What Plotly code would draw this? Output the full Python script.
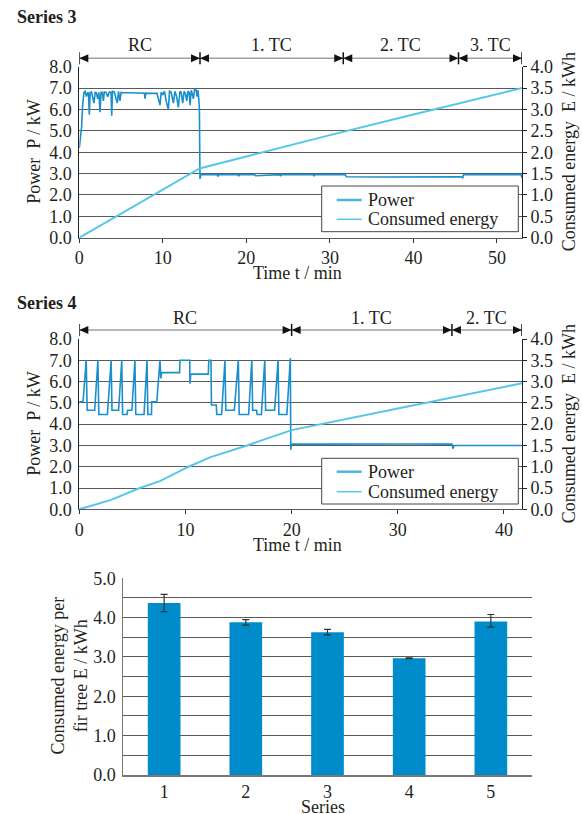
import plotly.graph_objects as go

# ---------------- data ----------------
# Series 3 : power (kW) over time (min)
S3_T = [0.0, 0.1, 0.2, 0.28, 0.4, 0.56, 0.7, 0.85, 1.0, 1.1, 1.2, 1.3, 1.45, 1.6, 1.76, 1.9,
        2.05, 2.2, 2.35, 2.48, 2.6, 2.75, 2.88, 3.0, 3.2, 3.4, 3.6, 3.8, 3.88, 3.98, 4.2, 4.4,
        4.55, 4.7, 4.87, 5.0, 5.27, 6.0, 7.0, 7.8, 7.87, 7.95, 8.5, 9.3, 9.66, 9.8, 10.0, 10.2,
        10.4, 10.66, 10.8, 11.0, 11.26, 11.45, 11.65, 11.86, 12.05, 12.2, 12.38, 12.55, 12.7,
        12.86, 13.0, 13.15, 13.26, 13.4, 13.55, 13.66, 13.8, 14.0, 14.1, 14.2, 14.3, 14.38,
        14.42, 14.45, 14.55, 16.5, 16.6, 16.7, 19.0, 19.1, 19.2, 21.0, 21.1, 24.0, 24.1, 24.2,
        26.0, 28.0, 28.1, 28.2, 31.8, 32.0, 36.0, 40.0, 45.7, 45.9, 46.0, 50.0, 52.9, 53.0]
S3_P = [4.2, 4.5, 4.9, 5.2, 6.2, 6.8, 6.85, 6.6, 6.8, 6.75, 5.75, 6.8, 6.82, 6.5, 6.3, 6.8,
        6.78, 6.5, 6.8, 5.87, 6.8, 6.8, 6.4, 6.82, 6.8, 6.6, 6.82, 6.8, 5.71, 6.85, 6.82, 6.5,
        6.3, 6.85, 6.4, 6.8, 6.78, 6.78, 6.76, 6.76, 6.5, 6.76, 6.75, 6.75, 6.2, 6.8, 6.7, 6.85,
        6.4, 5.98, 6.85, 6.8, 6.3, 6.85, 6.6, 6.1, 6.85, 6.8, 6.3, 6.85, 6.75,
        6.4, 6.85, 6.8, 6.2, 6.9, 6.7, 6.5, 6.92, 6.9, 6.6, 6.9, 6.5, 6.0,
        4.0, 2.75, 2.95, 2.95, 2.87, 2.95, 2.95, 2.9, 2.95, 2.95, 2.9, 2.95, 2.88, 2.95,
        2.95, 2.95, 2.9, 2.95, 2.95, 2.85, 2.84, 2.85, 2.85, 2.8, 2.95, 2.95, 2.95, 2.8]
# Series 3 : consumed energy (kWh)
S3_ET = [0.0, 5.0, 10.0, 14.4, 20.0, 30.0, 40.0, 53.0]
S3_E = [0.0, 0.56, 1.13, 1.62, 1.9, 2.4, 2.88, 3.5]

# Series 4 : power (kW) over time (min)
S4_T = [0.0, 0.35, 0.65, 0.74, 1.1, 1.45, 1.75, 1.84, 2.65, 3.0, 3.08, 3.7, 4.0, 4.08, 4.5,
        4.55, 4.95, 5.24, 5.32, 6.1, 6.38, 6.46, 6.8, 6.82, 7.3, 7.6, 7.68, 7.75, 9.45, 9.48,
        10.4, 10.42, 10.5, 12.15, 12.2, 12.4, 12.45, 12.9, 12.95, 13.4, 13.72, 13.8, 14.6,
        14.98, 15.06, 15.95, 16.25, 16.33, 16.7, 16.75, 17.15, 17.47, 17.55, 18.4, 18.72,
        18.8, 19.55, 19.84, 19.88, 19.92, 20.0, 22.0, 25.0, 28.0, 31.0, 35.1, 35.2, 35.3,
        38.0, 41.7]
S4_P = [5.05, 5.05, 7.0, 4.65, 4.65, 4.65, 7.0, 4.45, 4.45, 7.0, 4.65, 4.65, 7.0, 4.45, 4.45,
        4.65, 4.65, 7.0, 4.45, 4.45, 7.0, 4.45, 4.45, 5.05, 5.05, 7.0, 6.15, 6.42, 6.42, 7.0,
        7.0, 5.9, 6.35, 6.35, 7.0, 7.0, 4.9, 4.9, 4.45, 4.45, 7.0, 4.65, 4.65,
        7.0, 4.45, 4.45, 7.0, 4.65, 4.65, 4.45, 4.45, 7.0, 4.65, 4.65, 7.0,
        4.45, 4.45, 7.1, 7.1, 2.8, 3.07, 3.06, 3.07, 3.06, 3.07, 3.06, 2.85, 3.0,
        3.0, 3.0]
# Series 4 : consumed energy (kWh)
S4_ET = [0.0, 3.0, 5.7, 7.6, 10.3, 12.3, 15.8, 20.0, 30.0, 41.7]
S4_E = [0.0, 0.22, 0.5, 0.66, 1.0, 1.22, 1.5, 1.86, 2.37, 2.96]

# Phase labels and boundaries (min)
S3_PHASES = ["RC", "1. TC", "2. TC", "3. TC"]
S3_BOUNDS = [0.0, 14.45, 31.6, 45.4, 53.0]
S4_PHASES = ["RC", "1. TC", "2. TC"]
S4_BOUNDS = [0.0, 20.0, 35.1, 41.7]

# Bar chart: consumed energy per fir tree
BAR_SERIES = ["1", "2", "3", "4", "5"]
BAR_VALUES = [4.37, 3.88, 3.63, 2.97, 3.9]
BAR_ERR_PLUS = [0.22, 0.07, 0.07, 0.01, 0.18]
BAR_ERR_MINUS = [0.22, 0.07, 0.07, 0.01, 0.14]

LEGEND_NAMES = ["Power", "Consumed energy"]

# ---------------- styling ----------------
W, H = 582, 814
FONT = "Liberation Serif"
TXT = "#231f20"
POWER_COLOR = "#1a8fcb"
ENERGY_COLOR = "#58c6e8"
BAR_COLOR = "#008ccb"
GRID = "#5a5a5a"


def px(x):
    return x / W


def py(y):
    return 1 - y / H


C1 = dict(x0=79.3, x1=522.0, y0=66.7, y1=237.7)
C2 = dict(x0=79.3, x1=522.0, y0=339.0, y1=509.3)
C3 = dict(x0=123.3, x1=531.7, y0=578.3, y1=775.0)

fig = go.Figure()

fig.add_trace(go.Scatter(x=S3_T, y=S3_P, xaxis="x", yaxis="y", name=LEGEND_NAMES[0],
                         mode="lines", line=dict(color=POWER_COLOR, width=1.6),
                         showlegend=False))
fig.add_trace(go.Scatter(x=S3_ET, y=S3_E, xaxis="x", yaxis="y2", name=LEGEND_NAMES[1],
                         mode="lines", line=dict(color=ENERGY_COLOR, width=2),
                         showlegend=False))
fig.add_trace(go.Scatter(x=S4_T, y=S4_P, xaxis="x2", yaxis="y3", name=LEGEND_NAMES[0],
                         mode="lines", line=dict(color=POWER_COLOR, width=1.6),
                         showlegend=False))
fig.add_trace(go.Scatter(x=S4_ET, y=S4_E, xaxis="x2", yaxis="y4", name=LEGEND_NAMES[1],
                         mode="lines", line=dict(color=ENERGY_COLOR, width=2),
                         showlegend=False))
fig.add_trace(go.Bar(x=BAR_SERIES, y=BAR_VALUES, xaxis="x3", yaxis="y5", width=0.4,
                     marker=dict(color=BAR_COLOR, line=dict(width=0)), showlegend=False,
                     error_y=dict(type="data", array=BAR_ERR_PLUS, arrayminus=BAR_ERR_MINUS,
                                  color="#333", thickness=1.2, width=3.5)))

tickfont = dict(family=FONT, size=18, color=TXT)


def time_axis(c, anchor, rng):
    return dict(domain=[px(c["x0"]), px(c["x1"])], anchor=anchor, range=rng, dtick=10,
                showgrid=False, zeroline=False, showline=True, linecolor=GRID, linewidth=1,
                ticks="outside", ticklen=4, tickcolor="#333", tickfont=tickfont,
                automargin=False)


def power_axis(c, anchor):
    return dict(domain=[py(c["y1"]), py(c["y0"])], anchor=anchor, range=[0, 8], dtick=1,
                tickformat=".1f", showgrid=True, gridcolor=GRID, gridwidth=1, zeroline=False,
                showline=True, linecolor="#222", linewidth=1, ticks="", tickfont=tickfont,
                ticklabelstandoff=3, automargin=False)


def energy_axis(over, anchor):
    return dict(overlaying=over, anchor=anchor, side="right", range=[0, 4], dtick=0.5,
                tickformat=".1f", showgrid=False, zeroline=False, showline=True,
                linecolor="#222", linewidth=1, ticks="outside", ticklen=4, tickcolor="#222",
                tickfont=tickfont, automargin=False)


layout = dict(
    width=W, height=H, margin=dict(l=0, r=0, t=0, b=0, autoexpand=False),
    paper_bgcolor="white", plot_bgcolor="white", showlegend=False,
    font=dict(family=FONT, size=18, color=TXT),
    xaxis=time_axis(C1, "y", [0, 53]),
    yaxis=power_axis(C1, "x"),
    yaxis2=energy_axis("y", "x"),
    xaxis2=time_axis(C2, "y3", [0, 41.7]),
    yaxis3=power_axis(C2, "x2"),
    yaxis4=energy_axis("y3", "x2"),
    xaxis3=dict(domain=[px(C3["x0"]), px(C3["x1"])], anchor="y5", type="category",
                showgrid=False, showline=True, linecolor="#777", linewidth=1.5, ticks="",
                tickfont=tickfont, automargin=False),
    yaxis5=dict(domain=[py(C3["y1"]), py(C3["y0"])], anchor="x3", range=[0, 5], dtick=1,
                tickformat=".1f", showgrid=True, gridcolor=GRID, gridwidth=1, zeroline=False,
                showline=True, linecolor="#777", linewidth=1, ticks="", tickfont=tickfont,
                ticklabelstandoff=3, automargin=False,
                minor=dict(dtick=0.5, showgrid=True, gridcolor=GRID, gridwidth=1)),
    bargap=0.6,
)
fig.update_layout(**layout)

shapes = []
annotations = []


def phase_bar(xref, bounds, labels, yline_px, ylab_px):
    yl = py(yline_px)
    common = dict(xref=xref, yref="paper", layer="above")
    for i, lab in enumerate(labels):
        a, b = bounds[i], bounds[i + 1]
        shapes.append(dict(type="line", x0=a, x1=b, y0=yl, y1=yl,
                           line=dict(color="#a0a0a0", width=1.6), **common))
        shapes.append(dict(type="path", xsizemode="pixel", ysizemode="pixel", xanchor=a,
                           yanchor=yl, path="M0,0 L9,4 L9,-4 Z", fillcolor="#111",
                           line=dict(width=0), **common))
        shapes.append(dict(type="path", xsizemode="pixel", ysizemode="pixel", xanchor=b,
                           yanchor=yl, path="M0,0 L-9,4 L-9,-4 Z", fillcolor="#111",
                           line=dict(width=0), **common))
        annotations.append(dict(x=(a + b) / 2, y=py(ylab_px), xref=xref, yref="paper",
                                text=lab, showarrow=False, xanchor="center", yanchor="middle",
                                font=dict(family=FONT, size=18, color=TXT)))
    for b in bounds:
        shapes.append(dict(type="path", xsizemode="pixel", ysizemode="pixel", xanchor=b,
                           yanchor=yl, path="M0,-6 L0,6", line=dict(color="#111", width=1.5),
                           **common))


phase_bar("x", S3_BOUNDS, S3_PHASES, 58.3, 45)
phase_bar("x2", S4_BOUNDS, S4_PHASES, 330, 318)


def ann(x, y, text, angle=0, size=18, xanchor="center"):
    annotations.append(dict(x=px(x), y=py(y), xref="paper", yref="paper", text=text,
                            showarrow=False, textangle=angle, xanchor=xanchor,
                            yanchor="middle",
                            font=dict(family=FONT, size=size, color=TXT)))


def legend_box(top, bottom, row1, row2):
    shapes.append(dict(type="rect", xref="paper", yref="paper", x0=px(321.7), x1=px(518.3),
                       y0=py(bottom), y1=py(top), fillcolor="white",
                       line=dict(color="#444", width=1), layer="above"))
    for name, row, col, wdt in ((LEGEND_NAMES[0], row1, "#4db4e2", 2.5),
                                (LEGEND_NAMES[1], row2, "#62c6e8", 1.6)):
        shapes.append(dict(type="line", xref="paper", yref="paper", x0=px(336.7),
                           x1=px(361.7), y0=py(row), y1=py(row),
                           line=dict(color=col, width=wdt), layer="above"))
        ann(366, row, name, xanchor="left")


ann(15, 17, "<b>Series 3</b>", xanchor="left")
ann(15, 303, "<b>Series 4</b>", xanchor="left")
for c in (C1, C2):
    mid = (c["y0"] + c["y1"]) / 2
    ann(34.5, mid, "Power\u00a0\u00a0P / kW", angle=-90)
    ann(569, mid, "Consumed energy\u00a0\u00a0E / kWh", angle=-90)
    ann(297, c["y1"] + 35.5, "Time t / min")
legend_box(186, 231.7, 200, 219.3)
legend_box(458.3, 504, 471.7, 491.7)
ann(68.5, 676, "Consumed energy per<br>fir tree E / kWh", angle=-90)
ann(322.5, 806.5, "Series")

fig.update_layout(shapes=shapes, annotations=annotations)
fig.write_html("out.html", config={"displayModeBar": False},
               post_script="document.body.style.margin='0';"
                           "document.body.style.overflow='hidden';")
